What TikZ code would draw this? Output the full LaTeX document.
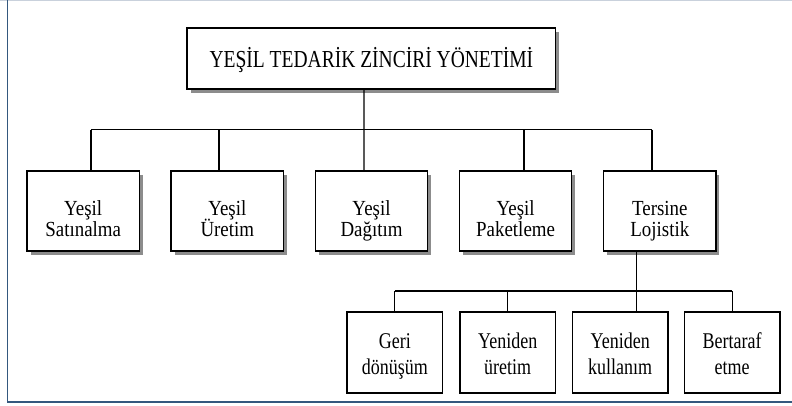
\documentclass[tikz,border=0pt]{standalone}
\usepackage{fontspec}
\setmainfont{Liberation Serif}[FakeStretch=0.8]
\newfontfamily\ikincifont{Liberation Serif}[FakeStretch=0.88]
\usepackage{xcolor}
\usepackage{tikz}
\usetikzlibrary{shadows}
\definecolor{cerceve}{HTML}{34587E}
\definecolor{cerceveacik}{HTML}{C9D1DC}

\begin{document}
\begin{tikzpicture}[x=1pt, y=-1pt,
        golge/.style={drop shadow={shadow xshift=3.5pt, shadow yshift=-3.5pt, fill=black!45, opacity=1}},
        anabox/.style={draw, rectangle, line width=1.4pt, fill=white, inner sep=0pt, minimum width=368.7pt, minimum height=61pt, font={\fontsize{24.4}{26}\selectfont}, text height=18pt, text depth=0pt, golge},
        kutu/.style={draw, rectangle, line width=1.4pt, fill=white, inner sep=0pt, minimum width=112.3pt, minimum height=80pt, align=center, font={\ikincifont\fontsize{21.5}{21.5}\selectfont\lineskiplimit=-30pt}, text height=51pt, text depth=0pt, golge},
        altkutu/.style={draw, rectangle, line width=1.6pt, fill=white, inner sep=0pt, minimum width=95.5pt, minimum height=81pt, align=center, font={\fontsize{22.5}{26}\selectfont}, text height=44.2pt, text depth=0pt},
        baglanti/.style={line width=1.2pt}
    ]
    \useasboundingbox (0,0) rectangle (792,405);

    % Frame
    \draw[line width=1pt, cerceveacik] (0,0.5) -- (792,0.5);
    \draw[line width=1.6pt, cerceve] (7.3,0) -- (7.3,402);
    \draw[line width=2pt, cerceve] (7,402) -- (792,402);

    % Top
    \node[anabox] (ana) at (371.4,58.5) {YEŞİL TEDARİK ZİNCİRİ YÖNETİMİ};

    % Level 2
    \node[kutu] (k1) at (83.2,211) {Yeşil\\Satınalma};
    \node[kutu] (k2) at (227.3,211) {Yeşil\\Üretim};
    \node[kutu] (k3) at (371.5,211) {Yeşil\\Dağıtım};
    \node[kutu] (k4) at (515.6,211) {Yeşil\\Paketleme};
    \node[kutu] (k5) at (659.8,211) {Tersine\\Lojistik};

    % Level 3
    \node[altkutu] (a1) at (394.8,352.2) {Geri\\dönüşüm};
    \node[altkutu] (a2) at (507.7,352.2) {Yeniden\\üretim};
    \node[altkutu] (a3) at (620.2,352.2) {Yeniden\\kullanım};
    \node[altkutu] (a4) at (732.2,352.2) {Bertaraf\\etme};

    % Connectors top -> level 2
    \coordinate (bar1) at (0,129.5);
    \draw[baglanti] ([xshift=-7.5pt]ana.south) -- ([xshift=-7.5pt]k3.north);
    \draw[baglanti] ([xshift=7.8pt]k1.north |- bar1) -- ([xshift=-7.8pt]k5.north |- bar1);
    \foreach \n/\d in {k1/7.8pt, k2/-8.3pt, k4/8.4pt, k5/-7.8pt}
        \draw[baglanti] ([xshift=\d]\n.north |- bar1) -- ([xshift=\d]\n.north);

    % Connectors Tersine Lojistik -> level 3
    \coordinate (bar2) at (0,291);
    \draw[baglanti] ([xshift=-23.1pt]k5.south) -- ([xshift=16.5pt]a3.north);
    \draw[baglanti] (a1.north |- bar2) -- (a4.north |- bar2);
    \foreach \n in {a1, a2, a4}
        \draw[baglanti] (\n.north |- bar2) -- (\n.north);

\end{tikzpicture}
\end{document}
